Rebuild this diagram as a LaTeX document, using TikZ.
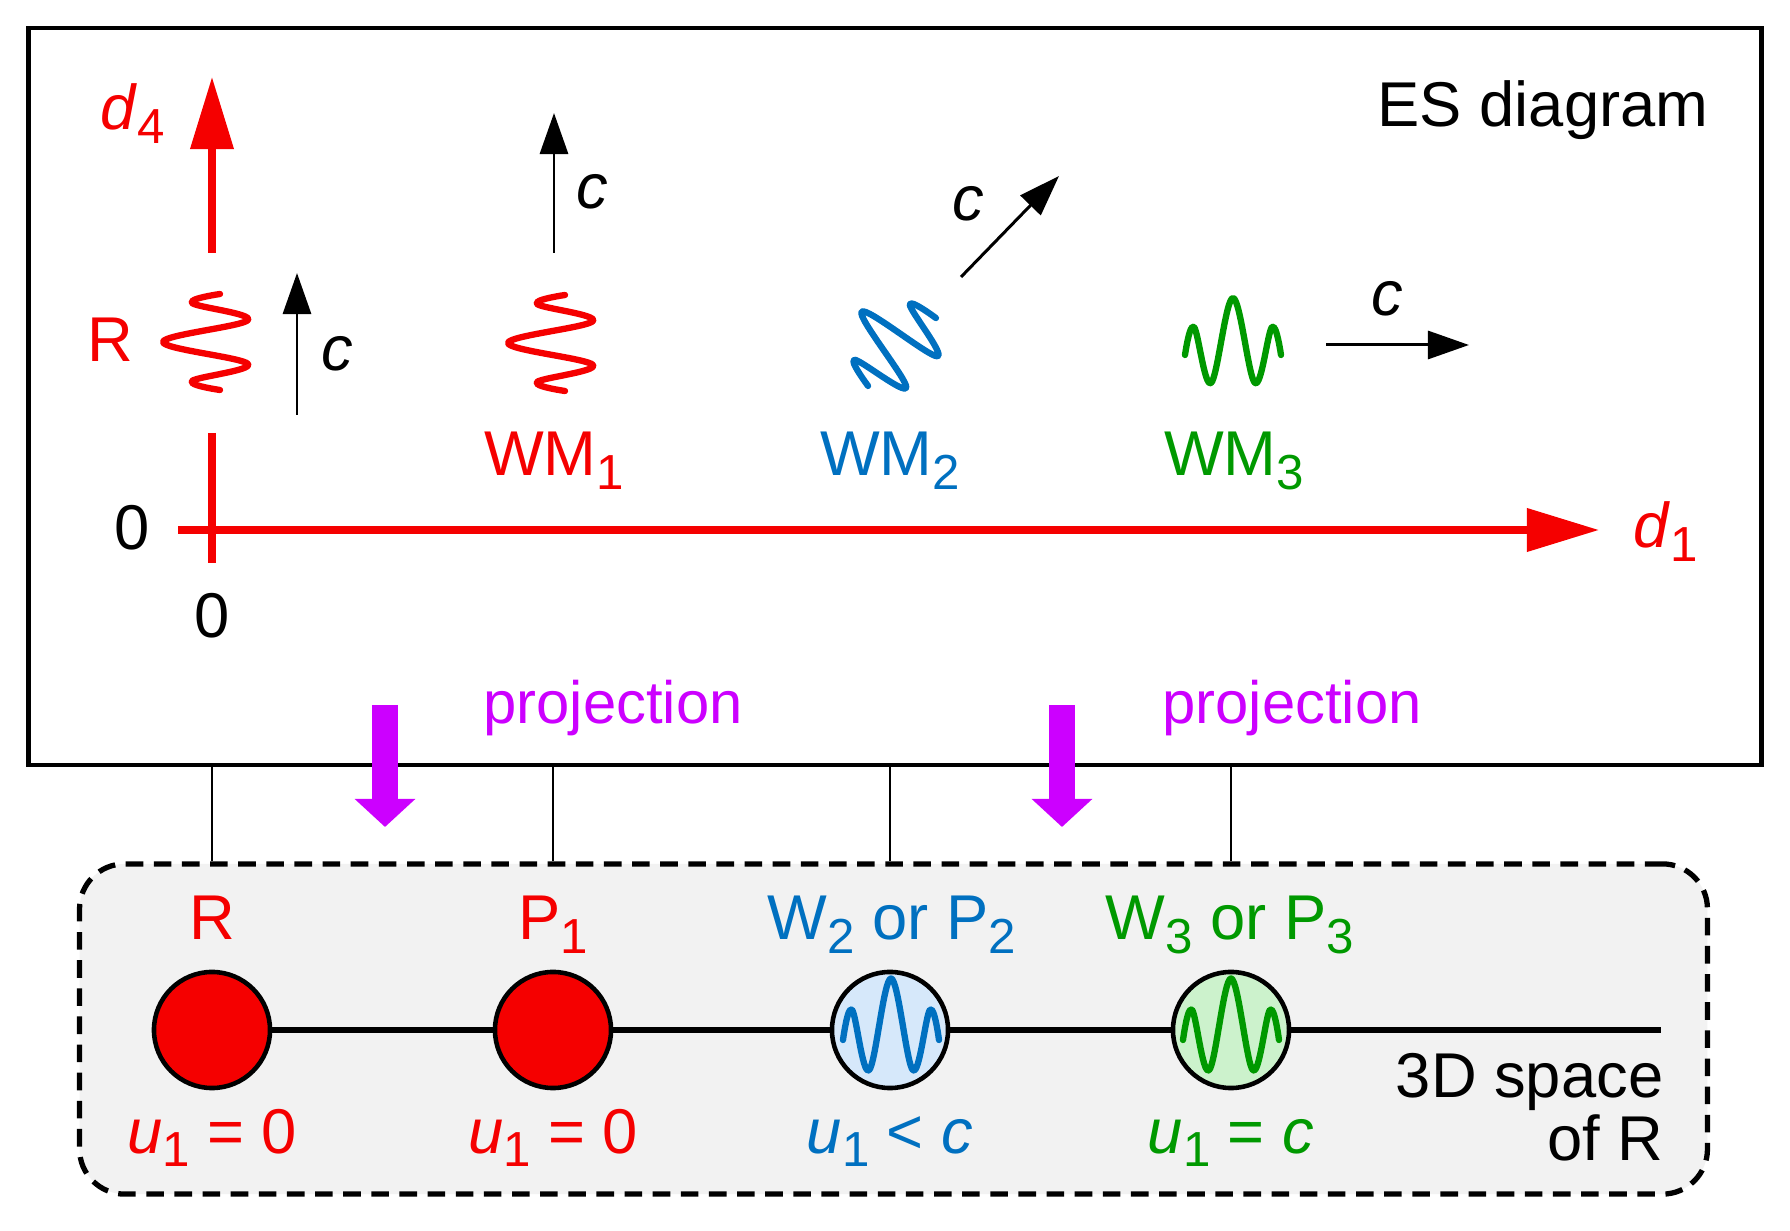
\documentclass[tikz,border=0pt]{standalone}
\usepackage{fontspec}
\setmainfont{Liberation Sans}
\usetikzlibrary{arrows.meta}

\definecolor{esred}{RGB}{245,0,0}
\definecolor{esblue}{RGB}{0,112,192}
\definecolor{esgreen}{RGB}{0,153,0}
\definecolor{espurple}{RGB}{204,0,255}
\definecolor{eslblue}{RGB}{214,232,250}
\definecolor{eslgreen}{RGB}{204,242,204}
\definecolor{esgray}{RGB}{242,242,242}
\newcommand\subi[1]{\raisebox{-0.22em}{\fontsize{14}{14}\selectfont #1}}

\begin{document}
\begin{tikzpicture}[x=0.01cm, y=-0.01cm,
    lbl/.style = {font=\fontsize{18}{20}\selectfont, inner sep=0pt, anchor=base},
    axis/.style = {esred, line width=2pt},
    axtip/.style = {-{Triangle[length=0.72cm, width=0.42cm]}},
    vel/.style = {-{Triangle[length=0.41cm, width=0.28cm]}, line width=0.85pt},
    proj/.style = {espurple, line width=0.26cm, -{Triangle[length=0.28cm, width=0.59cm]}},
    wave/.style = {line width=1.8pt, line cap=round, line join=round},
    dot/.style = {draw, circle, line width=1.3pt, minimum size=1.16cm, inner sep=0pt},
    link/.style = {line width=0.6pt},
    packet/.pic = {\draw[wave, pic actions] plot[smooth, tension=0.6] coordinates {(-48,0) (-39,-28) (-22,28) (0,-57) (22,28) (39,-28) (48,0)};}]
    \useasboundingbox (0,0) rectangle (1790,1231);

    \node[draw, dash pattern=on 5pt off 3pt, line width=1.5pt, fill=esgray, rounded corners=0.45cm, minimum width=16.27cm, minimum height=3.30cm] (space) at (893.5,1029) {};
    \node[draw, line width=1.2pt, minimum width=17.32cm, minimum height=7.37cm, inner sep=0pt] (frame) at (895,396.5) {};
    \node[lbl] (es) [anchor=base east] at (1709,127) {ES diagram};

    \coordinate (d4top) at (212,77);
    \coordinate (d4low) at (212,253);
    \coordinate (d4gap) at (212,433);
    \coordinate (d4bot) at (212,563);
    \coordinate (d1start) at (178,530);
    \coordinate (d1end) at (1599,530);
    \draw[axis, axtip] (d4low) -- (d4top);
    \draw[axis] (d4gap) -- (d4bot);
    \draw[axis, axtip] (d1start) -- (d1end);
    \node[lbl, esred, anchor=base west] (d4) at (100,130) {\textit{d}\subi{4}};
    \node[lbl, esred, anchor=base west] (d1) at (1633,548) {\textit{d}\subi{1}};
    \node[lbl] (zero1) at (132,550) {0};
    \node[lbl] (zero2) at (212,638) {0};

    \node[lbl, esred] (rname) at (110,362) {R};
    \pic[draw=esred, rotate=90] at (220,342) {packet};
    \pic[draw=esred, rotate=90] at (565,343) {packet};
    \pic[draw=esblue, rotate=45] at (902,352) {packet};
    \pic[draw=esgreen] at (1233,355) {packet};
    \node[lbl, esred] (wm1) at (554,476) {WM\subi{1}};
    \node[lbl, esblue] (wm2) at (890,476) {WM\subi{2}};
    \node[lbl, esgreen] (wm3) at (1234,476) {WM\subi{3}};

    \coordinate (v0a) at (297,415);
    \coordinate (v0b) at (297,273);
    \coordinate (v1a) at (554,253);
    \coordinate (v1b) at (554,113);
    \coordinate (v2a) at (961,277);
    \coordinate (v2b) at (1059,176);
    \coordinate (v3a) at (1326,345);
    \coordinate (v3b) at (1469,345);
    \draw[vel] (v0a) -- (v0b);
    \draw[vel] (v1a) -- (v1b);
    \draw[vel] (v2a) -- (v2b);
    \draw[vel] (v3a) -- (v3b);
    \node[lbl] (c0) at (337,371) {\textit{c}};
    \node[lbl] (c1) at (592,209) {\textit{c}};
    \node[lbl] (c2) at (968,221) {\textit{c}};
    \node[lbl] (c3) at (1387,316) {\textit{c}};

    \coordinate (pa1) at (385,705);
    \coordinate (pb1) at (385,827);
    \coordinate (pa2) at (1062,705);
    \coordinate (pb2) at (1062,827);
    \draw[proj] (pa1) -- (pb1);
    \draw[proj] (pa2) -- (pb2);
    \node[lbl, espurple, font=\fontsize{17}{19}\selectfont] (proj1) at (613,724) {projection};
    \node[lbl, espurple, font=\fontsize{17}{19}\selectfont] (proj2) at (1292,724) {projection};

    \node[dot, fill=esred] (r) at (212,1030) {};
    \node[dot, fill=esred] (p1) at (553,1030) {};
    \node[dot, fill=eslblue] (w2) at (890,1030) {};
    \node[dot, fill=eslgreen] (w3) at (1231,1030) {};
    \coordinate (lineend) at (1661,1030);
    \draw[line width=1.7pt] (r) -- (p1) -- (w2) -- (w3) -- (lineend);
    \pic[draw=esblue, yscale=1.08, line width=1.5pt] at (891,1040) {packet};
    \pic[draw=esgreen, yscale=1.08, line width=1.5pt] at (1231,1040) {packet};

    \draw[link] (r |- frame.south) -- (r |- space.north);
    \draw[link] (p1 |- frame.south) -- (p1 |- space.north);
    \draw[link] (w2 |- frame.south) -- (w2 |- space.north);
    \draw[link] (w3 |- frame.south) -- (w3 |- space.north);

    \node[lbl, esred] (lr) at (212,940) {R};
    \node[lbl, esred] (lp1) at (553,940) {P\subi{1}};
    \node[lbl, esblue] (lw2) at (892,940) {W\subi{2} or P\subi{2}};
    \node[lbl, esgreen] (lw3) at (1230,940) {W\subi{3} or P\subi{3}};
    \node[lbl, esred] (ur) at (212,1153) {\textit{u}\subi{1} = 0};
    \node[lbl, esred] (up1) at (553,1153) {\textit{u}\subi{1} = 0};
    \node[lbl, esblue] (uw2) at (890,1153) {\textit{u}\subi{1} < \textit{c}};
    \node[lbl, esgreen] (uw3) at (1231,1153) {\textit{u}\subi{1} = \textit{c}};
    \node[lbl, anchor=base east] (sp1) at (1664,1097) {3D space};
    \node[lbl, anchor=base east] (sp2) at (1664,1161) {of R};
\end{tikzpicture}
\end{document}
